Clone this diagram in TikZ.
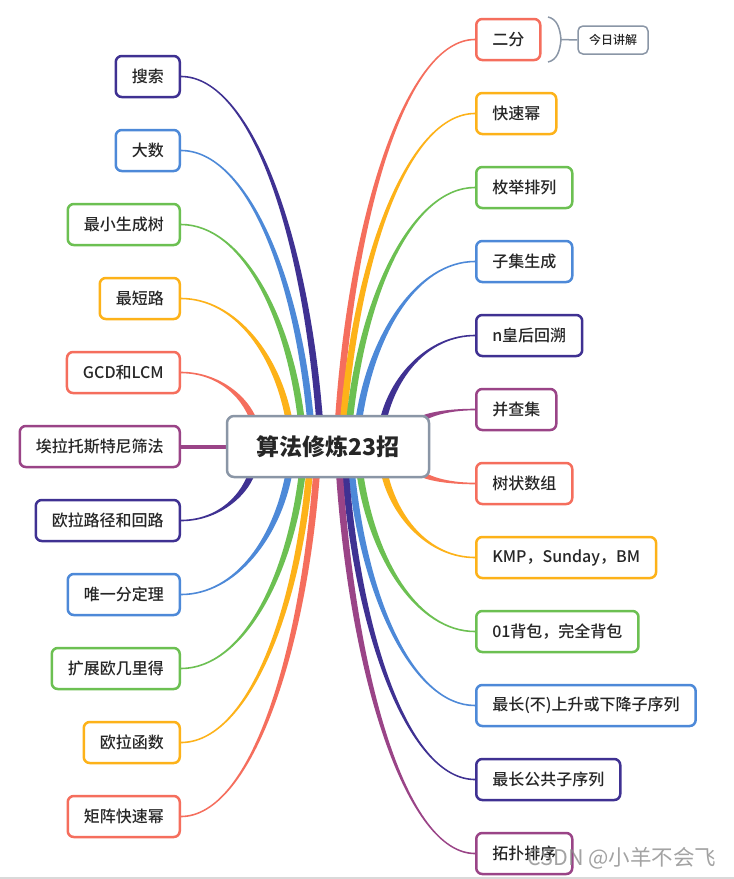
\documentclass[tikz,border=0pt]{standalone}
\usepackage{fontspec}
\setmainfont{Noto Sans CJK SC}
\newfontfamily\medfont{Noto Sans CJK SC Medium}
\usetikzlibrary{calc,backgrounds}
\definecolor{cred}{HTML}{F56E5D}
\definecolor{corange}{HTML}{FDB219}
\definecolor{cgreen}{HTML}{6CC052}
\definecolor{cblue}{HTML}{4D89D8}
\definecolor{cpurple}{HTML}{3F3192}
\definecolor{cmagenta}{HTML}{9A4487}
\definecolor{cgrey}{HTML}{8A96A6}
\definecolor{ctext}{HTML}{262626}
\tikzset{
  topic/.style={draw=#1, line width=2.5pt, rounded corners=6pt, fill=white,
    minimum height=41pt, inner xsep=16pt, inner ysep=0pt, text=ctext,
    font=\medfont\fontsize{16}{19}\selectfont},
  lt/.style={topic=#1, anchor=east},
  rt/.style={topic=#1, anchor=west},
  rootbox/.style={draw=cgrey, line width=2.5pt, rounded corners=7pt, fill=white,
    minimum width=202pt, minimum height=61pt, text=ctext,
    font=\fontsize{23}{27}\selectfont\bfseries},
  notebox/.style={draw=cgrey, line width=1.5pt, rounded corners=5pt, fill=white,
    minimum width=70pt, minimum height=28pt, inner sep=0pt, text=ctext,
    font=\medfont\fontsize{12}{14}\selectfont},
  bracketline/.style={draw=cgrey, line width=1.5pt},
}
% #1 node anchor, #2 end coordinate inside the central node, #3 colour
\newcommand\conn[3]{%
  \coordinate (e) at (#1);
  \coordinate (s) at (#2);
  \coordinate (p1) at ($(e)!0.5!(e -| s)$);
  \coordinate (p2a) at ($(s)!0.55!(s |- e)$);
  \coordinate (p2) at ($(p2a)!0.1!(p2a -| e)$);
  \fill[#3] ($(e)!0.8pt!90:(p1)$) .. controls ($(p1)!0.8pt!-90:(e)$) and ($(p2)!3.4pt!90:(s)$) .. ($(s)!3.4pt!-90:(p2)$)
     -- ($(s)!3.4pt!90:(p2)$) .. controls ($(p2)!3.4pt!-90:(s)$) and ($(p1)!0.8pt!90:(e)$) .. ($(e)!0.8pt!-90:(p1)$) -- cycle;}
\begin{document}
\begin{tikzpicture}[x=1pt,y=-1pt]
\useasboundingbox (0,0) rectangle (734,879);

\node[rootbox] (root) at (328,446.5) {算法修炼23招};

% left
\node[lt=cpurple]  (l1)  at (181,76.5)  {搜索};
\node[lt=cblue]    (l2)  at (181,150.5) {大数};
\node[lt=cgreen]   (l3)  at (181,224.5) {最小生成树};
\node[lt=corange]  (l4)  at (181,298.5) {最短路};
\node[lt=cred]     (l5)  at (181,372.5) {GCD和LCM};
\node[lt=cmagenta] (l6)  at (181,446.5) {埃拉托斯特尼筛法};
\node[lt=cpurple]  (l7)  at (181,520.5) {欧拉路径和回路};
\node[lt=cblue]    (l8)  at (181,594.5) {唯一分定理};
\node[lt=cgreen]   (l9)  at (181,668.5) {扩展欧几里得};
\node[lt=corange]  (l10) at (181,742.5) {欧拉函数};
\node[lt=cred]     (l11) at (181,816.5) {矩阵快速幂};

% right
\node[rt=cred]     (r1)  at (475,39.5)  {二分};
\node[rt=corange]  (r2)  at (475,113.5) {快速幂};
\node[rt=cgreen]   (r3)  at (475,187.5) {枚举排列};
\node[rt=cblue]    (r4)  at (475,261.5) {子集生成};
\node[rt=cpurple]  (r5)  at (475,335.5) {n皇后回溯};
\node[rt=cmagenta] (r6)  at (475,409.5) {并查集};
\node[rt=cred]     (r7)  at (475,483.5) {树状数组};
\node[rt=corange]  (r8)  at (475,557.5) {KMP，Sunday，BM};
\node[rt=cgreen]   (r9)  at (475,631.5) {01背包，完全背包};
\node[rt=cblue]    (r10) at (475,705.5) {最长(不)上升或下降子序列};
\node[rt=cpurple]  (r11) at (475,779.5) {最长公共子序列};
\node[rt=cmagenta] (r12) at (475,853.5) {拓扑排序};

% connector ends inside the central node
\coordinate (sl1) at (320,426);
\coordinate (sl2) at (311,426);
\coordinate (sl3) at (302,426);
\coordinate (sl4) at (290,426);
\coordinate (sl5) at (256,428);
\coordinate (sl6) at (236,446.5);
\coordinate (sl7) at (254,466);
\coordinate (sl8) at (290,467);
\coordinate (sl9) at (303,467);
\coordinate (sl10) at (310,467);
\coordinate (sl11) at (317,467);
\coordinate (sr1) at (338,426);
\coordinate (sr2) at (343,426);
\coordinate (sr3) at (349,426);
\coordinate (sr4) at (358,426);
\coordinate (sr5) at (382,426);
\coordinate (sr6) at (418,422);
\coordinate (sr7) at (418,471);
\coordinate (sr8) at (383,467);
\coordinate (sr9) at (359,467);
\coordinate (sr10) at (351,467);
\coordinate (sr11) at (345,467);
\coordinate (sr12) at (339,467);

% note
\node[notebox] (today) at (613,40) {今日讲解};
\coordinate (bt) at (548,17);
\coordinate (bm) at (561,39.5);
\coordinate (bb) at (548,62);
\draw[bracketline] (bt) .. controls (557,19) and (560,28) .. (bm) .. controls (560,51) and (557,60) .. (bb);
\draw[bracketline] (bm) -- (today.west);

\begin{scope}[on background layer]
\fill[white] (0,0) rectangle (734,879);
\draw[black!15, line width=1.5pt] (0,878) -- (734,878);
\conn{l1.east}{sl1}{cpurple}
\conn{l2.east}{sl2}{cblue}
\conn{l3.east}{sl3}{cgreen}
\conn{l4.east}{sl4}{corange}
\conn{l5.east}{sl5}{cred}
\draw[cmagenta, line width=4pt] (l6.east) -- (sl6);
\conn{l7.east}{sl7}{cpurple}
\conn{l8.east}{sl8}{cblue}
\conn{l9.east}{sl9}{cgreen}
\conn{l10.east}{sl10}{corange}
\conn{l11.east}{sl11}{cred}
\conn{r1.west}{sr1}{cred}
\conn{r2.west}{sr2}{corange}
\conn{r3.west}{sr3}{cgreen}
\conn{r4.west}{sr4}{cblue}
\conn{r5.west}{sr5}{cpurple}
\conn{r6.west}{sr6}{cmagenta}
\conn{r7.west}{sr7}{cred}
\conn{r8.west}{sr8}{corange}
\conn{r9.west}{sr9}{cgreen}
\conn{r10.west}{sr10}{cblue}
\conn{r11.west}{sr11}{cpurple}
\conn{r12.west}{sr12}{cmagenta}
\end{scope}

\node[text=black!45, opacity=0.8, font=\fontsize{21.5}{25}\selectfont, anchor=east] (wm) at (720,858) {CSDN @小羊不会飞};
\end{tikzpicture}
\end{document}
